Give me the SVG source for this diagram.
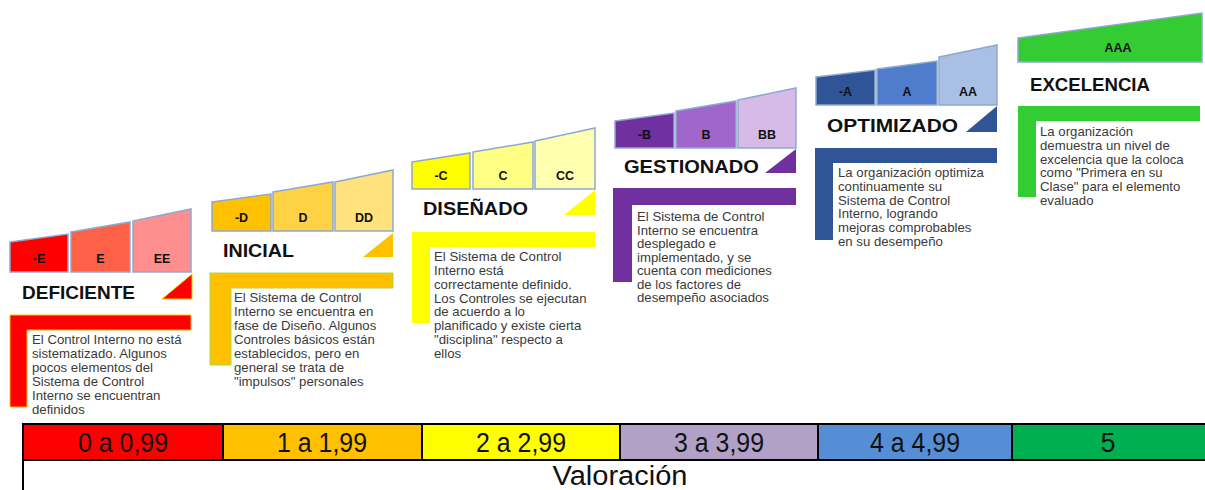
<svg xmlns="http://www.w3.org/2000/svg" width="1205" height="490" viewBox="0 0 1205 490">
<style>
.blk{stroke:#8ea9cf;stroke-width:1.5}
.lbl{font-family:"Liberation Sans",Arial,sans-serif;font-weight:bold;font-size:12.5px;fill:#111;text-anchor:middle}
.ttl{font-family:"Liberation Sans",Arial,sans-serif;font-weight:bold;font-size:18.5px;fill:#111}
.dsc{font-family:"Liberation Sans",Arial,sans-serif;font-size:13.2px;fill:#3a3a3a}
.bar{stroke:#000;stroke-width:2}
.num{font-family:"Liberation Sans",Arial,sans-serif;font-size:27px;fill:#111;text-anchor:middle}
</style>
<rect width="1205" height="490" fill="#fff"/>
<g id="connectors"/>

<g id="deficiente">
<polygon class="blk" fill="#ff0000" points="10,242 68,234 68,272 10,272"/>
<polygon class="blk" fill="#ff6048" points="71,232 130,222 130,272 71,272"/>
<polygon class="blk" fill="#ff8f8f" points="133,221 191,209 191,272 133,272"/>
<text class="lbl" x="39" y="263">-E</text>
<text class="lbl" x="100.5" y="263">E</text>
<text class="lbl" x="162" y="263">EE</text>
<text class="ttl" x="22" y="299" textLength="113" lengthAdjust="spacingAndGlyphs">DEFICIENTE</text>
<polygon fill="#ff0000" stroke="#ffd000" stroke-width="1" points="162,299 192,274 192,299"/>
<path d="M10,315H191V330H27V407H10Z" fill="#ff0000" stroke="#ffc000" stroke-width="1"/>
<text class="dsc" x="32"><tspan x="32" y="344">El Control Interno no está</tspan><tspan x="32" y="357.9">sistematizado. Algunos</tspan><tspan x="32" y="371.8">pocos elementos del</tspan><tspan x="32" y="385.7">Sistema de Control</tspan><tspan x="32" y="399.6">Interno se encuentran</tspan><tspan x="32" y="413.5">definidos</tspan></text>
</g>

<g id="inicial">
<polygon class="blk" fill="#ffc000" points="212,202 271,194 271,231 212,231"/>
<polygon class="blk" fill="#ffd145" points="273,192 333,182 333,231 273,231"/>
<polygon class="blk" fill="#ffe27c" points="335,182 393,170 393,231 335,231"/>
<text class="lbl" x="241.5" y="222">-D</text>
<text class="lbl" x="303" y="222">D</text>
<text class="lbl" x="364" y="222">DD</text>
<text class="ttl" x="223" y="257" textLength="71" lengthAdjust="spacingAndGlyphs">INICIAL</text>
<polygon fill="#ffc000" points="363,257 393,233 393,257"/>
<path d="M210,273H393V288H231V365H210Z" fill="#ffc000" stroke="#a6d84a" stroke-width="1"/>
<text class="dsc" x="234"><tspan x="234" y="302">El Sistema de Control</tspan><tspan x="234" y="316">Interno se encuentra en</tspan><tspan x="234" y="330">fase de Diseño. Algunos</tspan><tspan x="234" y="344">Controles básicos están</tspan><tspan x="234" y="358">establecidos, pero en</tspan><tspan x="234" y="372">general se trata de</tspan><tspan x="234" y="386">"impulsos" personales</tspan></text>
</g>

<g id="disenado">
<polygon class="blk" fill="#ffff00" stroke="#7b4aa8" points="412,162 470,153 470,189 412,189"/>
<polygon class="blk" fill="#ffff84" points="473,152 533,142 533,189 473,189"/>
<polygon class="blk" fill="#ffffb0" points="535,141 595,128 595,189 535,189"/>
<text class="lbl" x="441" y="180">-C</text>
<text class="lbl" x="503" y="180">C</text>
<text class="lbl" x="565" y="180">CC</text>
<text class="ttl" x="423" y="215" textLength="105" lengthAdjust="spacingAndGlyphs">DISEÑADO</text>
<polygon fill="#ffff00" points="564,215 595,190 595,215"/>
<path d="M412,232H595V247H430V323H412Z" fill="#ffff00"/>
<text class="dsc" x="434"><tspan x="434" y="261">El Sistema de Control</tspan><tspan x="434" y="274.9">Interno está</tspan><tspan x="434" y="288.7">correctamente definido.</tspan><tspan x="434" y="302.6">Los Controles se ejecutan</tspan><tspan x="434" y="316.4">de acuerdo a  lo</tspan><tspan x="434" y="330.3">planificado y existe cierta</tspan><tspan x="434" y="344.2">"disciplina" respecto a</tspan><tspan x="434" y="358">ellos</tspan></text>
</g>

<g id="gestionado">
<polygon class="blk" fill="#7030a0" points="615,121 674,113 674,148 615,148"/>
<polygon class="blk" fill="#a066cc" points="676,111 736,101 736,148 676,148"/>
<polygon class="blk" fill="#d6bae8" points="738,100 796,88 796,148 738,148"/>
<text class="lbl" x="644.5" y="139">-B</text>
<text class="lbl" x="706" y="139">B</text>
<text class="lbl" x="767" y="139">BB</text>
<text class="ttl" x="624" y="173" textLength="135" lengthAdjust="spacingAndGlyphs">GESTIONADO</text>
<polygon fill="#7030a0" points="765,173 796,149 796,173"/>
<path d="M613,188H796V205H632V282H613Z" fill="#7030a0"/>
<text class="dsc" x="637"><tspan x="637" y="221">El Sistema de Control</tspan><tspan x="637" y="234.5">Interno se encuentra</tspan><tspan x="637" y="248">desplegado e</tspan><tspan x="637" y="261.5">implementado, y se</tspan><tspan x="637" y="275">cuenta con mediciones</tspan><tspan x="637" y="288.5">de los factores de</tspan><tspan x="637" y="302">desempeño asociados</tspan></text>
</g>

<g id="optimizado">
<polygon class="blk" fill="#2f5597" points="816,77 875,70 875,105 816,105"/>
<polygon class="blk" fill="#4f7dcc" points="877,69 937,61 937,105 877,105"/>
<polygon class="blk" fill="#a9bfe3" points="939,57 997,45 997,105 939,105"/>
<text class="lbl" x="845.5" y="96">-A</text>
<text class="lbl" x="907" y="96">A</text>
<text class="lbl" x="968" y="96">AA</text>
<text class="ttl" x="827" y="132" textLength="131" lengthAdjust="spacingAndGlyphs">OPTIMIZADO</text>
<polygon fill="#2f5597" points="966,132 997,106 997,132"/>
<path d="M815,148H997V163H833V240H815Z" fill="#2f5597"/>
<text class="dsc" x="838"><tspan x="838" y="177">La organización optimiza</tspan><tspan x="838" y="190.8">continuamente su</tspan><tspan x="838" y="204.6">Sistema de Control</tspan><tspan x="838" y="218.4">Interno, logrando</tspan><tspan x="838" y="232.2">mejoras comprobables</tspan><tspan x="838" y="246">en su desempeño</tspan></text>
</g>

<g id="excelencia">
<polygon class="blk" fill="#33cc33" points="1018,38 1202,13 1202,62 1018,62"/>
<text class="lbl" x="1118" y="52">AAA</text>
<text class="ttl" x="1030" y="91" textLength="120" lengthAdjust="spacingAndGlyphs">EXCELENCIA</text>
<path d="M1018,106H1200V121H1036V197H1018Z" fill="#33cc33"/>
<text class="dsc" x="1040"><tspan x="1040" y="136">La organización</tspan><tspan x="1040" y="149.8">demuestra un nivel de</tspan><tspan x="1040" y="163.6">excelencia que la coloca</tspan><tspan x="1040" y="177.4">como "Primera en su</tspan><tspan x="1040" y="191.2">Clase" para el elemento</tspan><tspan x="1040" y="205">evaluado</tspan></text>
</g>

<g id="escala">
<rect class="bar" x="23" y="424" width="200" height="36" fill="#ff0000"/>
<rect class="bar" x="223" y="424" width="199" height="36" fill="#ffc000"/>
<rect class="bar" x="422" y="424" width="198" height="36" fill="#ffff00"/>
<rect class="bar" x="620" y="424" width="198" height="36" fill="#b2a1c7"/>
<rect class="bar" x="818" y="424" width="194" height="36" fill="#558ed5"/>
<rect class="bar" x="1012" y="424" width="195" height="36" fill="#00b050"/>
<text class="num" x="123" y="452" textLength="90" lengthAdjust="spacingAndGlyphs">0 a 0,99</text>
<text class="num" x="322" y="452" textLength="90" lengthAdjust="spacingAndGlyphs">1 a 1,99</text>
<text class="num" x="521" y="452" textLength="90" lengthAdjust="spacingAndGlyphs">2 a 2,99</text>
<text class="num" x="719" y="452" textLength="90" lengthAdjust="spacingAndGlyphs">3 a 3,99</text>
<text class="num" x="915" y="452" textLength="90" lengthAdjust="spacingAndGlyphs">4 a 4,99</text>
<text class="num" x="1108" y="452">5</text>
<line x1="23" y1="460" x2="23" y2="490" stroke="#000" stroke-width="2"/>
<text class="num" x="620" y="485" textLength="135" lengthAdjust="spacingAndGlyphs">Valoración</text>
</g>
</svg>
